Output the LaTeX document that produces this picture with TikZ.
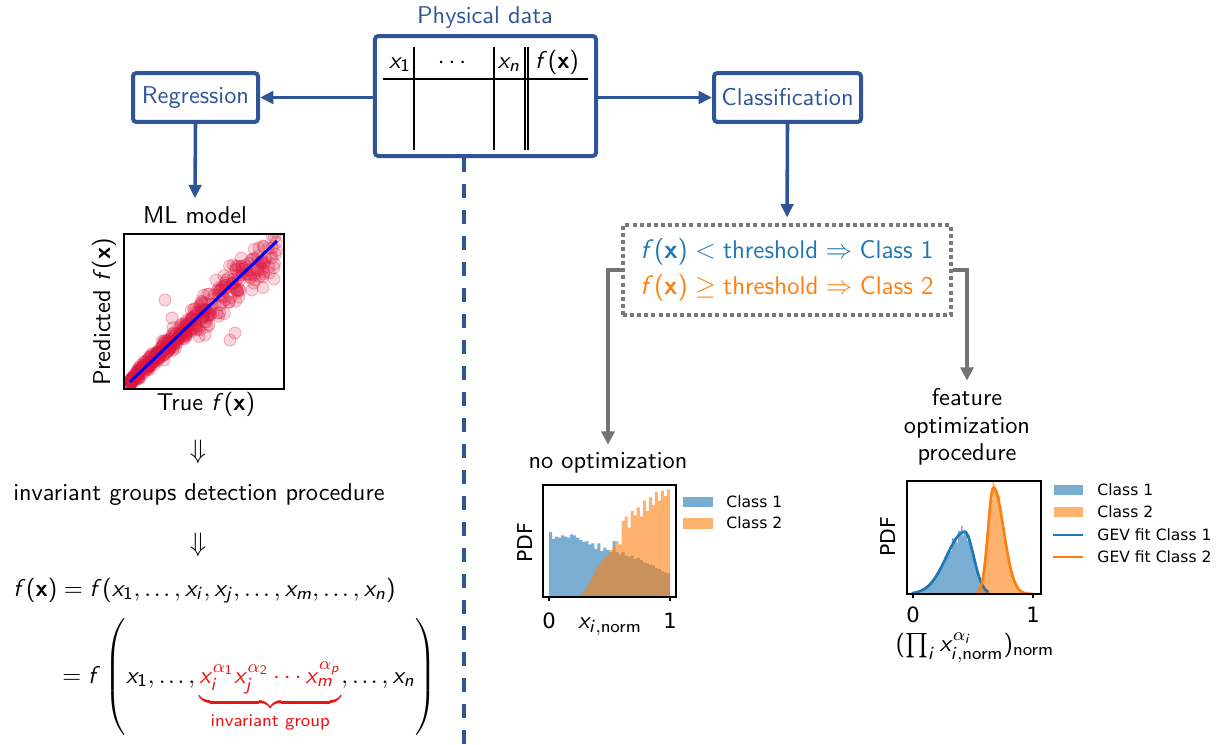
\documentclass[tikz,border=0pt]{standalone}
\usepackage{amsmath}
\usepackage[no-math]{fontspec}
\newfontfamily\dejavu{DejaVu Sans}
\usetikzlibrary{arrows.meta}
\renewcommand{\familydefault}{\sfdefault}
\SetSymbolFont{operators}{normal}{OT1}{cmss}{m}{n}
\DeclareSymbolFont{sfitalic}{OT1}{cmss}{m}{sl}
\DeclareMathSymbol{f}{\mathalpha}{sfitalic}{`f}
\DeclareMathSymbol{i}{\mathalpha}{sfitalic}{`i}
\DeclareMathSymbol{j}{\mathalpha}{sfitalic}{`j}
\DeclareMathSymbol{m}{\mathalpha}{sfitalic}{`m}
\DeclareMathSymbol{n}{\mathalpha}{sfitalic}{`n}
\DeclareMathSymbol{p}{\mathalpha}{sfitalic}{`p}
\DeclareMathSymbol{x}{\mathalpha}{sfitalic}{`x}
\SetMathAlphabet{\mathbf}{normal}{OT1}{cmss}{bx}{n}
\newcommand{\sdots}{\mathinner{.\mkern2mu.\mkern2mu.}}
\definecolor{boxblue}{RGB}{47,85,151}
\definecolor{mplblue}{RGB}{31,119,180}
\definecolor{mplorange}{RGB}{255,127,14}
\definecolor{arrgray}{RGB}{115,115,115}
\definecolor{dotgray}{RGB}{120,120,120}
\definecolor{scred}{RGB}{220,20,60}
\definecolor{eqred}{RGB}{235,20,20}
\begin{document}
\begin{tikzpicture}[x=0.45pt,y=-0.45pt, font=\fontsize{10.95}{13}\selectfont,
  declare function={gone(\u)=0.55*exp(0-((\u-0.43)^2)/(2*(0.005625+(\u<0.43)*0.016875)));
                    gtwo(\u)=0.94*exp(0-((\u-0.67)^2)/(2*(0.007225-(\u<0.67)*0.0052)));},
  bluebox/.style={draw=boxblue, line width=1.8pt, rounded corners=1.5pt, fill=white, inner sep=0pt, text=boxblue},
  bluearrow/.style={draw=boxblue, line width=1.6pt, -{Triangle[length=6pt,width=5.6pt]}},
  grayarrow/.style={draw=arrgray, line width=1.8pt, -{Triangle[length=6pt,width=5.8pt]}},
  dotbox/.style={draw=dotgray, line width=1.8pt, dash pattern=on 1.8pt off 1.4pt},
  tablerule/.style={line width=0.8pt},
  axisframe/.style={line width=0.8pt},
  mpl/.style={font=\dejavu\fontsize{7}{8}\selectfont},
  mpltick/.style={font=\dejavu\fontsize{9.5}{10}\selectfont, inner sep=0pt},
  mplylab/.style={font=\dejavu\fontsize{9.2}{10}\selectfont, rotate=90},
  dot/.style={fill=scred, fill opacity=0.18, draw=scred, draw opacity=0.28, line width=0.4pt}]
\useasboundingbox (0,0) rectangle (1217,744);

% ---------- physical data ----------
\node[text=boxblue] (phystitle) at (485,18) {Physical data};
\node[bluebox, minimum width=99.5pt, minimum height=54pt] (phys) at (485.5,96) {};
\draw[tablerule] (383,79) -- (588,79);
\foreach \xx in {414,494,525,528} \draw[tablerule] (\xx,47) -- (\xx,150);
\node[anchor=base] (hxone) at (400,68) {$x_1$};
\node[anchor=base] (hdots) at (454,68) {$\cdots$};
\node[anchor=base] (hxn) at (509,68) {$x_n$};
\node[anchor=base] (hf) at (557,68) {$f(\mathbf{x})$};

% ---------- regression / classification ----------
\node[bluebox, minimum width=56.25pt, minimum height=22pt] (reg) at (195.5,97.5) {Regression};
\node[bluebox, minimum width=66.15pt, minimum height=22pt] (cls) at (787.5,97.5) {Classification};
\draw[bluearrow] (phys.west |- reg.east) -- (reg.east);
\draw[bluearrow] (phys.east |- cls.west) -- (cls.west);

\coordinate (dashend) at (464,744);
\draw[draw=boxblue, line width=1.6pt, dash pattern=on 6.3pt off 5.4pt] (phys.south -| dashend) -- (dashend);

% ---------- ML model ----------
\node[anchor=base] (mltitle) at (195,223) {ML model};
\draw[bluearrow] (reg.south) -- (mltitle.north);

\begin{scope}
\clip (124,234) rectangle (284,389);
\pgfmathsetseed{7}
\foreach \k in {1,...,420}{
  \pgfmathsetmacro\tv{rnd^1.5}
  \pgfmathsetmacro\pv{\tv-0.04*\tv^3+(0.012+0.11*\tv)*(rand+rand+rand)/1.1}
  \path[dot] ({130+147*\tv},{382-141*\pv}) circle (2.7pt);
}
\foreach \ox/\oy in {230/340,235/333,172/318,165/300,205/335,258/262,272/258,263/246}
  \path[dot] (\ox,\oy) circle (2.7pt);
\end{scope}
\draw[blue, line width=1.3pt] (130,382) -- (277,241);
\draw[axisframe] (124,234) rectangle (284,389);
\node (truelab) at (206,404) {True $f(\mathbf{x})$};
\node[rotate=90] (predlab) at (104,312) {Predicted $f(\mathbf{x})$};

\node (dnone) at (198,452) {\fontsize{12}{14}\selectfont$\Downarrow$};
\node (igd) at (199,495) {invariant groups detection procedure};
\node (dntwo) at (198,545) {\fontsize{12}{14}\selectfont$\Downarrow$};

\node[anchor=base west, inner sep=0pt] (eqone) at (13,596)
  {$f(\mathbf{x}) = f(x_1, \sdots, x_i, x_j, \sdots, x_m, \sdots, x_n)$};
\node[anchor=base west, inner sep=0pt] (eqtwo) at (62,683)
  {$= f \left(\rule[-24.3pt]{0pt}{1pt} x_1, \sdots, \textcolor{eqred}{\underbrace{x_i^{\alpha_1} x_j^{\alpha_2} \cdots x_m^{\alpha_p}}_{\text{invariant group}}}, \sdots, x_n \right)$};

% ---------- threshold box ----------
\node[dotbox, minimum width=147.6pt, minimum height=40.5pt, align=center,
      font=\fontsize{11.5}{16.2}\selectfont] (thr) at (787,270)
  {\textcolor{mplblue}{$f(\mathbf{x}) < \text{threshold} \Rightarrow \text{Class 1}$}\\
   \textcolor{mplorange}{$f(\mathbf{x}) \geq \text{threshold} \Rightarrow \text{Class 2}$}};
\draw[bluearrow, shorten >=2.5pt] (cls.south) -- (thr.north);

\node (noopt) at (608,463) {no optimization};
\node[align=center, font=\fontsize{10.95}{12.4}\selectfont] (feat) at (967,427) {feature\\optimization\\procedure};
\draw[grayarrow] (thr.west) -| (noopt.north);
\draw[grayarrow] (thr.east) -| (feat.north);

% ---------- histogram 1 ----------
\fill[mplblue, fill opacity=0.6] (549,597)
  \foreach \h [count=\k from 0] in {0.58,0.52,0.54,0.53,0.55,0.54,0.53,0.56,0.55,0.53,0.51,0.49,0.50,0.47,0.48,0.43,0.48,0.41,0.44,0.42,0.40,0.50,0.40,0.38,0.40,0.37,0.36,0.37,0.34,0.35,0.33,0.31,0.30,0.29,0.28,0.26,0.25,0.23,0.22,0.21}
  { -- ({549+3.025*\k},{597-112*\h}) -- ({549+3.025*(\k+1)},{597-112*\h}) } -- (670,597) -- cycle;
\fill[mplorange, fill opacity=0.6] (549,597)
  \foreach \h [count=\k from 0] in {0,0,0,0,0,0,0,0,0,0,0.02,0.05,0.09,0.14,0.19,0.24,0.28,0.32,0.35,0.38,0.42,0.45,0.50,0.47,0.68,0.72,0.62,0.77,0.73,0.80,0.72,0.86,0.77,0.89,0.82,0.94,0.86,0.95,0.90,0.96}
  { -- ({549+3.025*\k},{597-112*\h}) -- ({549+3.025*(\k+1)},{597-112*\h}) } -- (670,597) -- cycle;
\draw[axisframe] (543,485) rectangle (676,597);
\draw[axisframe] (549,597) -- (549,601) (670,597) -- (670,601);
\node[mpltick] (hazero) at (549,621) {0};
\node[mpltick] (haone) at (670,621) {1};
\node[inner sep=0pt] (haxlab) at (610,627) {$x_{i,\mathrm{norm}}$};
\node[mplylab] (haylab) at (525,543) {PDF};
\fill[mplblue, fill opacity=0.6] (683,497) rectangle (713,507);
\fill[mplorange, fill opacity=0.6] (683,518) rectangle (713,529);
\node[mpl, anchor=west, inner sep=0pt] (haleg1) at (726,502) {Class 1};
\node[mpl, anchor=west, inner sep=0pt] (haleg2) at (726,523) {Class 2};

% ---------- histogram 2 ----------
\pgfmathsetseed{11}
\fill[mplblue, fill opacity=0.6] (913,594)
  \foreach \k [evaluate=\k as \h using gone((\k+0.5)*0.0125)*(1+0.12*rand)] in {0,...,50}
  { -- ({913+1.5*\k},{594-113*\h}) -- ({913+1.5*(\k+1)},{594-113*\h}) } -- (989.5,594) -- cycle;
\fill[mplorange, fill opacity=0.6] (973,594)
  \foreach \k [evaluate=\k as \h using gtwo((\k+0.5)*0.0125)*(1+0.1*rand)] in {40,...,80}
  { -- ({913+1.5*\k},{594-113*\h}) -- ({913+1.5*(\k+1)},{594-113*\h}) } -- (1034.5,594) -- cycle;
\draw[mplblue, line width=1.2pt] plot[domain=-0.01:0.63, samples=80]
  ({913+120*\x},{594-113*gone(\x)});
\draw[mplorange, line width=1.2pt] plot[domain=0.52:1.0, samples=80]
  ({913+120*\x},{594-113*gtwo(\x)});
\draw[axisframe] (907,481) rectangle (1041,594);
\draw[axisframe] (913,594) -- (913,598) (1033,594) -- (1033,598);
\node[mpltick] (hbzero) at (913,615) {0};
\node[mpltick] (hbone) at (1033,615) {1};
\node[inner sep=0pt] (hbxlab) at (975,648) {$(\prod_i x_{i,\mathrm{norm}}^{\alpha_i})_{\mathrm{norm}}$};
\node[mplylab] (hbylab) at (888,537) {PDF};
\fill[mplblue, fill opacity=0.6] (1054,485) rectangle (1083,495);
\fill[mplorange, fill opacity=0.6] (1054,507) rectangle (1083,517);
\draw[mplblue, line width=1.2pt] (1053,535) -- (1083,535);
\draw[mplorange, line width=1.2pt] (1053,557) -- (1083,557);
\node[mpl, anchor=west, inner sep=0pt] (hbleg1) at (1097,490) {Class 1};
\node[mpl, anchor=west, inner sep=0pt] (hbleg2) at (1097,512) {Class 2};
\node[mpl, anchor=west, inner sep=0pt] (hbleg3) at (1097,535) {GEV fit Class 1};
\node[mpl, anchor=west, inner sep=0pt] (hbleg4) at (1097,557) {GEV fit Class 2};
\end{tikzpicture}
\end{document}
